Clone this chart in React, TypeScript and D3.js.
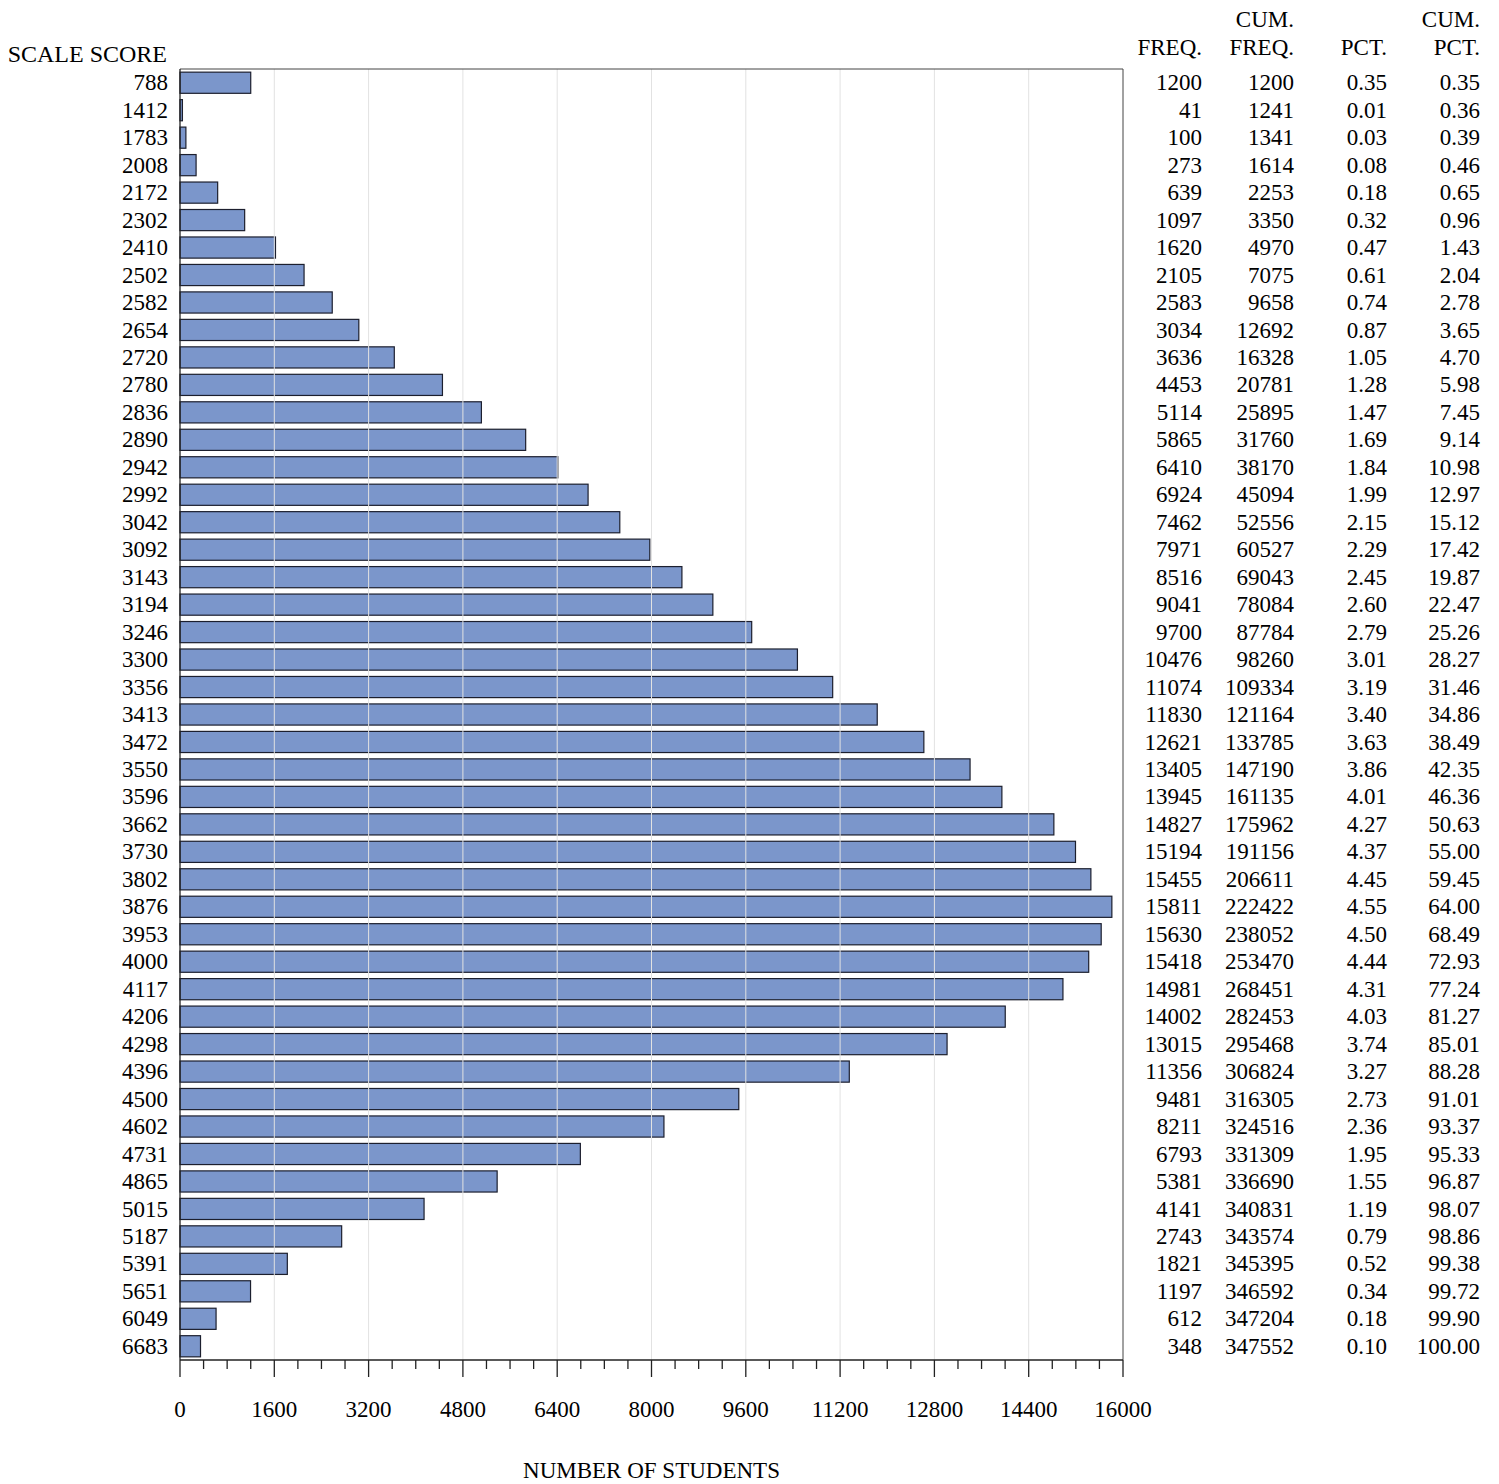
import * as React from 'react';
import { range, scaleBand, scaleLinear } from 'd3';

const scores = [
    '788', '1412', '1783', '2008', '2172', '2302', '2410', '2502', '2582', '2654', '2720', '2780',
    '2836', '2890', '2942', '2992', '3042', '3092', '3143', '3194', '3246', '3300', '3356', '3413',
    '3472', '3550', '3596', '3662', '3730', '3802', '3876', '3953', '4000', '4117', '4206', '4298',
    '4396', '4500', '4602', '4731', '4865', '5015', '5187', '5391', '5651', '6049', '6683'
];
const freq = [
    1200, 41, 100, 273, 639, 1097, 1620, 2105, 2583, 3034, 3636, 4453,
    5114, 5865, 6410, 6924, 7462, 7971, 8516, 9041, 9700, 10476, 11074, 11830,
    12621, 13405, 13945, 14827, 15194, 15455, 15811, 15630, 15418, 14981, 14002, 13015,
    11356, 9481, 8211, 6793, 5381, 4141, 2743, 1821, 1197, 612, 348
];
const cumFreq = [
    1200, 1241, 1341, 1614, 2253, 3350, 4970, 7075, 9658, 12692, 16328, 20781,
    25895, 31760, 38170, 45094, 52556, 60527, 69043, 78084, 87784, 98260, 109334, 121164,
    133785, 147190, 161135, 175962, 191156, 206611, 222422, 238052, 253470, 268451, 282453, 295468,
    306824, 316305, 324516, 331309, 336690, 340831, 343574, 345395, 346592, 347204, 347552
];
const pct = [
    0.35, 0.01, 0.03, 0.08, 0.18, 0.32, 0.47, 0.61, 0.74, 0.87, 1.05, 1.28,
    1.47, 1.69, 1.84, 1.99, 2.15, 2.29, 2.45, 2.60, 2.79, 3.01, 3.19, 3.40,
    3.63, 3.86, 4.01, 4.27, 4.37, 4.45, 4.55, 4.50, 4.44, 4.31, 4.03, 3.74,
    3.27, 2.73, 2.36, 1.95, 1.55, 1.19, 0.79, 0.52, 0.34, 0.18, 0.10
];
const cumPct = [
    0.35, 0.36, 0.39, 0.46, 0.65, 0.96, 1.43, 2.04, 2.78, 3.65, 4.70, 5.98,
    7.45, 9.14, 10.98, 12.97, 15.12, 17.42, 19.87, 22.47, 25.26, 28.27, 31.46, 34.86,
    38.49, 42.35, 46.36, 50.63, 55.00, 59.45, 64.00, 68.49, 72.93, 77.24, 81.27, 85.01,
    88.28, 91.01, 93.37, 95.33, 96.87, 98.07, 98.86, 99.38, 99.72, 99.90, 100.00
];
const majorTicks = [0, 1600, 3200, 4800, 6400, 8000, 9600, 11200, 12800, 14400, 16000];

const W = 1499;
const H = 1484;
const margin = { top: 69, right: 376, bottom: 124, left: 180 };
const FONT = '"Liberation Serif", "Times New Roman", serif';
const BAR = '#7b96cb';

const App = () => {
    const x = scaleLinear().domain([0, 16000]).range([margin.left, W - margin.right]);
    const y = scaleBand<string>()
        .domain(scores)
        .range([margin.top, H - margin.bottom])
        .paddingInner(0.23)
        .paddingOuter(0.115);
    const bottom = H - margin.bottom;
    const minorTicks = range(0, 16001, 400).filter((v) => v % 1600 !== 0);
    // right edges of the four table columns
    const cols = [1202, 1294, 1387, 1480];

    return (
        <svg width={W} height={H} style={{ position: 'absolute', left: 0, top: 0, background: '#fff' }}
            fontFamily={FONT} fontSize={23}>
            {scores.map((s, i) => (
                <rect key={s} x={x(0)} y={y(s)} width={x(freq[i]) - x(0)} height={y.bandwidth()}
                    fill={BAR} stroke="#1c1f2e" strokeWidth={1.2} />
            ))}
            {/* grid is drawn over the bars */}
            {majorTicks.slice(1, -1).map((t) => (
                <line key={t} x1={x(t)} x2={x(t)} y1={margin.top} y2={bottom} stroke="#e2e2e2" strokeWidth={1} />
            ))}
            <line x1={x(0)} x2={x(16000)} y1={margin.top} y2={margin.top} stroke="#444" />
            <line x1={x(16000)} x2={x(16000)} y1={margin.top} y2={bottom} stroke="#444" />
            <line x1={x(0)} x2={x(0)} y1={margin.top} y2={bottom} stroke="#222" strokeWidth={1.3} />
            <line x1={x(0)} x2={x(16000)} y1={bottom} y2={bottom} stroke="#222" strokeWidth={1.3} />
            {majorTicks.map((t) => (
                <g key={t}>
                    <line x1={x(t)} x2={x(t)} y1={bottom} y2={bottom + 17} stroke="#222" strokeWidth={1.3} />
                    <text x={x(t)} y={1417} textAnchor="middle">{t}</text>
                </g>
            ))}
            {minorTicks.map((t) => (
                <line key={t} x1={x(t)} x2={x(t)} y1={bottom} y2={bottom + 9} stroke="#222" strokeWidth={1.3} />
            ))}
            <text x={(x(0) + x(16000)) / 2} y={1478} textAnchor="middle">NUMBER OF STUDENTS</text>

            <text x={167} y={62} textAnchor="end" fontSize={24}>SCALE SCORE</text>
            {scores.map((s) => (
                <text key={s} x={168} y={y(s)! + y.bandwidth() / 2} dy="0.33em" textAnchor="end">{s}</text>
            ))}

            <text x={cols[1]} y={27} textAnchor="end">CUM.</text>
            <text x={cols[3]} y={27} textAnchor="end">CUM.</text>
            <text x={cols[0]} y={55} textAnchor="end">FREQ.</text>
            <text x={cols[1]} y={55} textAnchor="end">FREQ.</text>
            <text x={cols[2]} y={55} textAnchor="end">PCT.</text>
            <text x={cols[3]} y={55} textAnchor="end">PCT.</text>
            {scores.map((s, i) => {
                const cy = y(s)! + y.bandwidth() / 2;
                return (
                    <g key={s}>
                        <text x={cols[0]} y={cy} dy="0.33em" textAnchor="end">{freq[i]}</text>
                        <text x={cols[1]} y={cy} dy="0.33em" textAnchor="end">{cumFreq[i]}</text>
                        <text x={cols[2]} y={cy} dy="0.33em" textAnchor="end">{pct[i].toFixed(2)}</text>
                        <text x={cols[3]} y={cy} dy="0.33em" textAnchor="end">{cumPct[i].toFixed(2)}</text>
                    </g>
                );
            })}
        </svg>
    );
};

export default App;
